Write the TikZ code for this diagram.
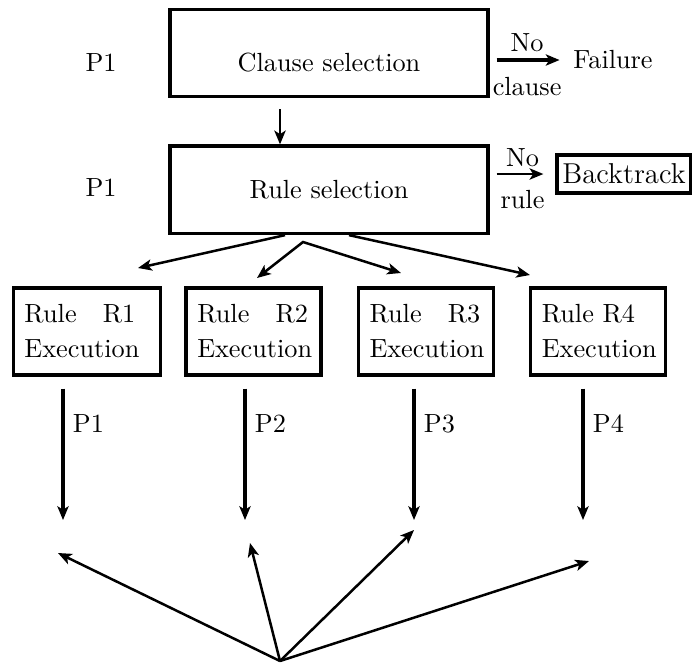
\documentclass[tikz,border=0pt]{standalone}
\usepackage{tikz}
\usetikzlibrary{arrows.meta,positioning}

\begin{document}
\begin{tikzpicture}[
    x=0.4pt, y=-0.4pt,
    font=\fontsize{10.5}{14}\selectfont,
    >={Stealth[length=5.5pt,width=4.5pt,inset=1.4pt]},
    selbox/.style={rectangle, draw, line width=1.3pt, minimum width=127.2pt, minimum height=35pt, inner sep=0pt},
    rulebox/.style={rectangle, draw, line width=1.3pt, minimum height=34.8pt, align=left, inner xsep=4.5pt, inner ysep=0pt, text width=45pt},
    arrow/.style={->, line width=1pt}
]
\useasboundingbox (0,0) rectangle (692,663);

% selection stage
\node[selbox, text height=25pt, text depth=10pt] (clause) at (329,53) {Clause selection\hspace{5pt}};
\node[selbox, below=18.4pt of clause] (rule) {Rule selection\hspace{11pt}};
\node (pclause) at (101,63) {P1};
\node (prule) at (101,188) {P1};

\draw[arrow, line width=1.1pt] ([xshift=-19.6pt]clause.south) ++(0,11) -- ([xshift=-19.6pt]rule.north);

% failure exits
\node (failure) at (613,60) {Failure};
\node[draw, line width=1.3pt, inner sep=0.8pt, font=\fontsize{11.5}{13}\selectfont, minimum width=53.6pt, minimum height=15.2pt] (backtrack) at (624,174) {Backtrack};

\draw[arrow, line width=1.4pt, shorten <=2.8pt, shorten >=2pt] (clause.east |- failure.west) -- node[above, inner sep=2.5pt]{No} node[below=3pt]{clause} (failure.west);
\draw[arrow, shorten <=2.8pt, shorten >=4.8pt] (rule.east |- backtrack.west) -- node[above, inner sep=2.5pt]{No} node[below=2.8pt]{rule} (backtrack.west);

% rule execution row
\node[rulebox, text width=50pt] (r1) at (87,331.5) {Rule\quad R1\\Execution};
\node[rulebox, right=8.8pt of r1] (r2) {Rule\quad R2\\Execution};
\node[rulebox, right=13.6pt of r2] (r3) {Rule\quad R3\\Execution};
\node[rulebox, right=13.6pt of r3] (r4) {Rule R4\\Execution};

% fan out from rule selection
\coordinate (apex) at (303,242);
\coordinate (f1) at (138,268);
\coordinate (f2) at (257,278);
\coordinate (f3) at (401,273);
\coordinate (f4) at (530,275);
\draw[arrow] ([xshift=-17.6pt]rule.south) -- (f1);
\draw[<->, line width=1pt] (f2) -- (apex) -- (f3);
\draw[arrow] ([xshift=8pt]rule.south) -- (f4);

% processes
\coordinate (d1) at (63,520);
\coordinate (d2) at (245,520);
\coordinate (d3) at (414,520);
\coordinate (d4) at (583,520);
\draw[arrow, line width=1.3pt, shorten <=4.8pt] (r1.south -| d1) -- node[right, pos=.33]{P1} (d1);
\draw[arrow, line width=1.3pt, shorten <=4.8pt] (r2.south -| d2) -- node[right, pos=.33]{P2} (d2);
\draw[arrow, line width=1.3pt, shorten <=4.8pt] (r3.south -| d3) -- node[right, pos=.33]{P3} (d3);
\draw[arrow, line width=1.3pt, shorten <=4.8pt] (r4.south -| d4) -- node[right, pos=.33]{P4} (d4);

% join at the bottom
\coordinate (hub) at (280,661);
\coordinate (u1) at (58,553);
\coordinate (u2) at (250,543);
\coordinate (u3) at (414,530);
\coordinate (u4) at (589,561);
\draw[arrow] (hub) -- (u1);
\draw[arrow] (hub) -- (u2);
\draw[arrow] (hub) -- (u3);
\draw[arrow] (hub) -- (u4);

\end{tikzpicture}
\end{document}
